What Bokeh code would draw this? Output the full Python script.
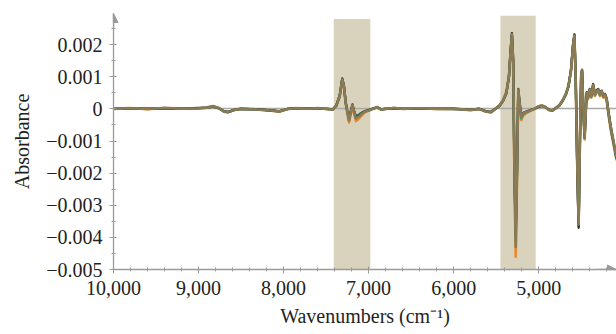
from bokeh.plotting import figure
from bokeh.models import Range1d, FixedTicker, Arrow, NormalHead
from bokeh.embed import file_html
from bokeh.resources import INLINE

# ---------------- data ----------------
wavenumbers = [
    10000, 9800, 9600, 9400, 9200, 9000, 8900, 8830, 8760, 8700,
    8650, 8580, 8500, 8300, 8150, 8050, 7950, 7850, 7700, 7600,
    7500, 7420, 7380, 7340, 7310, 7290, 7270, 7250, 7230, 7210,
    7190, 7170, 7150, 7120, 7080, 7040, 7000, 6950, 6900, 6850,
    6800, 6700, 6600, 6400, 6200, 6000, 5800, 5700, 5620, 5560,
    5500, 5460, 5420, 5380, 5350, 5330, 5315, 5300, 5285, 5270,
    5255, 5240, 5225, 5205, 5185, 5150, 5100, 5050, 5000, 4960,
    4920, 4880, 4840, 4800, 4760, 4720, 4680, 4650, 4620, 4595,
    4580, 4565, 4545, 4530, 4515, 4500, 4490, 4475, 4460, 4445,
    4435, 4420, 4400, 4380, 4360, 4340, 4320, 4300, 4280, 4260,
    4240, 4220, 4200, 4180, 4150, 4120, 4085,
]

# absorbance in units of 1e-3
abs_main = [
    0.00, 0.02, 0.00, 0.03, 0.01, 0.02, 0.04, 0.08, 0.02, -0.08,
    -0.10, -0.03, 0.00, -0.02, -0.05, -0.08, 0.00, 0.02, 0.01, 0.02,
    0.00, -0.02, 0.10, 0.40, 0.92, 0.70, 0.20, -0.10, -0.35, -0.10,
    0.12, -0.10, -0.30, -0.25, -0.15, -0.08, -0.05, 0.00, 0.05, -0.02,
    0.00, 0.03, 0.00, 0.02, 0.00, 0.00, -0.03, 0.00, -0.08, -0.10,
    0.02, 0.10, 0.25, 0.50, 1.00, 1.80, 2.32, 1.50, -2.00, -4.30,
    -2.00, 0.60, 0.20, -0.25, -0.15, -0.10, -0.05, 0.00, 0.08, 0.10,
    0.05, -0.03, -0.05, 0.02, 0.10, 0.25, 0.45, 0.70, 1.20, 2.00,
    2.28, 1.00, -2.00, -3.60, -1.00, 1.10, 1.20, 0.00, -0.90, 0.00,
    0.50, 0.35, 0.60, 0.40, 0.75, 0.45, 0.55, 0.60, 0.45, 0.55,
    0.40, 0.45, 0.30, -0.10, -0.60, -1.00, -1.50,
]

abs_orange = [
    0.01, 0.03, -0.01, 0.03, 0.02, 0.01, 0.05, 0.09, 0.02, -0.09,
    -0.11, -0.03, 0.01, -0.02, -0.06, -0.09, 0.00, 0.03, 0.01, 0.02,
    0.00, -0.02, 0.10, 0.38, 0.85, 0.68, 0.18, -0.14, -0.42, -0.16,
    0.06, -0.16, -0.38, -0.32, -0.20, -0.10, -0.06, 0.00, 0.06, -0.02,
    0.00, 0.03, 0.01, 0.02, 0.00, 0.00, -0.04, 0.00, -0.09, -0.11,
    0.02, 0.12, 0.28, 0.54, 1.02, 1.75, 2.25, 1.40, -2.20, -4.60,
    -2.20, 0.52, 0.12, -0.35, -0.22, -0.14, -0.07, 0.00, 0.08, 0.11,
    0.05, -0.03, -0.06, 0.02, 0.11, 0.27, 0.48, 0.72, 1.18, 1.95,
    2.22, 0.95, -1.95, -3.50, -1.05, 1.02, 1.15, -0.05, -0.95, -0.05,
    0.46, 0.30, 0.55, 0.35, 0.70, 0.40, 0.50, 0.55, 0.40, 0.50,
    0.35, 0.40, 0.25, -0.18, -0.70, -1.10, -1.60,
]

abs_dark = [
    0.00, 0.01, 0.01, 0.02, 0.01, 0.03, 0.04, 0.07, 0.02, -0.07,
    -0.09, -0.03, 0.00, -0.01, -0.05, -0.07, 0.00, 0.02, 0.02, 0.01,
    0.00, -0.01, 0.11, 0.42, 0.95, 0.72, 0.22, -0.08, -0.30, -0.07,
    0.14, -0.07, -0.26, -0.22, -0.13, -0.07, -0.04, 0.01, 0.05, -0.01,
    0.00, 0.02, 0.00, 0.01, 0.00, 0.01, -0.02, 0.00, -0.07, -0.09,
    0.02, 0.09, 0.24, 0.48, 1.00, 1.85, 2.36, 1.55, -1.90, -3.90,
    -1.90, 0.62, 0.22, -0.22, -0.13, -0.09, -0.04, 0.00, 0.07, 0.09,
    0.05, -0.02, -0.05, 0.02, 0.10, 0.24, 0.44, 0.70, 1.22, 2.05,
    2.32, 1.02, -2.05, -3.70, -1.00, 1.12, 1.22, 0.02, -0.88, 0.02,
    0.52, 0.38, 0.62, 0.42, 0.78, 0.48, 0.58, 0.62, 0.48, 0.57,
    0.42, 0.47, 0.32, -0.08, -0.58, -1.02, -1.52,
]

abs_green = [
    0.01, 0.02, 0.00, 0.02, 0.02, 0.02, 0.03, 0.08, 0.03, -0.08,
    -0.10, -0.02, 0.00, -0.02, -0.04, -0.08, 0.01, 0.02, 0.01, 0.03,
    0.01, -0.02, 0.09, 0.39, 0.90, 0.69, 0.21, -0.09, -0.33, -0.08,
    0.10, -0.08, -0.22, -0.18, -0.11, -0.06, -0.04, 0.01, 0.04, -0.02,
    0.01, 0.03, 0.00, 0.02, 0.01, 0.00, -0.03, 0.01, -0.08, -0.09,
    0.03, 0.11, 0.26, 0.51, 0.98, 1.78, 2.28, 1.45, -2.05, -4.10,
    -2.05, 0.56, 0.16, -0.30, -0.18, -0.11, -0.05, 0.01, 0.08, 0.10,
    0.06, -0.03, -0.04, 0.03, 0.10, 0.26, 0.46, 0.69, 1.19, 1.98,
    2.25, 0.98, -1.98, -3.55, -0.98, 1.08, 1.18, -0.02, -0.92, -0.02,
    0.48, 0.33, 0.58, 0.38, 0.72, 0.43, 0.52, 0.58, 0.43, 0.52,
    0.38, 0.43, 0.28, -0.12, -0.65, -1.05, -1.55,
]

abs_blue = [
    0.00, 0.02, 0.00, 0.03, 0.00, 0.02, 0.04, 0.07, 0.01, -0.09,
    -0.10, -0.04, 0.00, -0.03, -0.05, -0.08, -0.01, 0.02, 0.00, 0.02,
    0.00, -0.03, 0.10, 0.41, 0.93, 0.71, 0.19, -0.11, -0.37, -0.12,
    0.09, -0.12, -0.28, -0.24, -0.14, -0.08, -0.05, 0.00, 0.05, -0.03,
    0.00, 0.02, 0.00, 0.02, 0.00, -0.01, -0.03, 0.00, -0.08, -0.10,
    0.01, 0.10, 0.25, 0.50, 1.01, 1.82, 2.30, 1.48, -1.95, -3.80,
    -1.95, 0.58, 0.18, -0.27, -0.16, -0.10, -0.05, 0.00, 0.07, 0.10,
    0.05, -0.04, -0.05, 0.02, 0.09, 0.25, 0.45, 0.71, 1.21, 2.02,
    2.30, 1.01, -2.02, -3.65, -1.02, 1.08, 1.19, 0.01, -0.91, 0.01,
    0.49, 0.34, 0.59, 0.39, 0.74, 0.44, 0.54, 0.59, 0.44, 0.54,
    0.39, 0.44, 0.29, -0.12, -0.66, -1.08, -1.58,
]

series = [
    (abs_orange, "#ea8a2a", 2.6),
    (abs_green, "#3c9a60", 2.3),
    (abs_blue, "#2f9fc8", 2.3),
    (abs_dark, "#2a2a2a", 2.3),
    (abs_main, "#8a7b54", 2.6),
]

band_left = [7410, 5450]
band_right = [6980, 5035]
band_top = [0.0028, 0.0029]

x_tick_vals = [10000, 9000, 8000, 7000, 6000, 5000]
x_tick_labels = ["10,000", "9,000", "8,000", "7,000", "6,000", "5,000"]
y_tick_vals = [-0.005, -0.004, -0.003, -0.002, -0.001, 0.0, 0.001, 0.002]
y_tick_labels = ["\u22120.005", "\u22120.004", "\u22120.003", "\u22120.002",
                 "\u22120.001", "0", "0.001", "0.002"]

X_LEFT, X_RIGHT = 10000, 4085
Y_BOTTOM, Y_TOP = -0.005, 0.00297

# ---------------- figure ----------------
FONT = "Liberation Serif"
AX = "#9a9a9a"

p = figure(width=616, height=334, output_backend="svg", toolbar_location=None,
           x_range=Range1d(X_LEFT, X_RIGHT), y_range=Range1d(Y_BOTTOM, Y_TOP),
           min_border_left=113, min_border_right=0, min_border_top=13,
           min_border_bottom=65)
p.xgrid.visible = False
p.ygrid.visible = False
p.outline_line_color = None
p.background_fill_color = "white"
p.border_fill_color = "white"

# shaded bands
p.quad(left=band_left, right=band_right, top=band_top,
       bottom=[Y_BOTTOM] * len(band_left),
       fill_color="#d9d3bd", line_color=None)

# zero line (drawn over the bands, under the spectra)
p.hspan(y=[0.0], line_color="#a9a9a9", line_width=1.6)

for vals, col, lw in series:
    p.line(wavenumbers, [v / 1000 for v in vals], line_color=col,
           line_width=lw, line_join="round")

p.xaxis.ticker = FixedTicker(ticks=x_tick_vals,
                             minor_ticks=list(range(10000, 4085, -200)))
p.xaxis.major_label_overrides = dict(zip(x_tick_vals, x_tick_labels))
p.yaxis.ticker = FixedTicker(ticks=y_tick_vals,
                             minor_ticks=[-0.005 + 0.0005 * i for i in range(16)])
p.yaxis.major_label_overrides = dict(zip(y_tick_vals, y_tick_labels))

p.xaxis.axis_label = "Wavenumbers (cm\u207b\u00b9)"
p.yaxis.axis_label = "Absorbance"

for ax in (p.xaxis, p.yaxis):
    ax.axis_line_color = AX
    ax.axis_line_width = 1.3
    ax.major_tick_line_color = AX
    ax.minor_tick_line_color = AX
    ax.major_tick_in = 3
    ax.major_tick_out = 4
    ax.minor_tick_in = 2
    ax.minor_tick_out = 2
    ax.major_label_text_font = FONT
    ax.major_label_text_font_size = "20px"
    ax.major_label_text_color = "#231f20"
    ax.axis_label_text_font = FONT
    ax.axis_label_text_font_size = "20px"
    ax.axis_label_text_font_style = "normal"
    ax.axis_label_text_color = "#231f20"

p.xaxis.major_label_standoff = 7
p.xaxis.axis_label_standoff = 7
p.yaxis.major_label_standoff = 7
p.yaxis.axis_label_standoff = 10

# axis arrow heads
p.add_layout(Arrow(end=NormalHead(size=9, fill_color=AX, line_color=AX),
                   x_start=X_LEFT, y_start=0.0025, x_end=X_LEFT, y_end=Y_TOP,
                   line_color=AX, line_width=1.3))
p.add_layout(Arrow(end=NormalHead(size=9, fill_color=AX, line_color=AX),
                   x_start=4300, y_start=Y_BOTTOM, x_end=X_RIGHT, y_end=Y_BOTTOM,
                   line_color=AX, line_width=1.3))

open("out.html", "w").write(file_html(p, INLINE))
